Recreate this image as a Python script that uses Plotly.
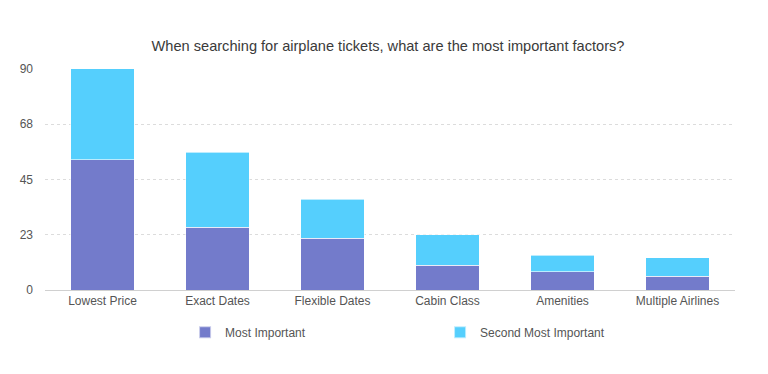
import plotly.graph_objects as go

categories = ["Lowest Price", "Exact Dates", "Flexible Dates", "Cabin Class", "Amenities", "Multiple Airlines"]
most_important = [53, 25.5, 21, 10, 7.4, 5.7]
second_most_important = [37, 30.5, 16, 12.6, 6.8, 7.4]
tick_vals = [0, 22.5, 45, 67.5, 90]
tick_text = ["0", "23", "45", "68", "90"]

fig = go.Figure()
fig.add_trace(go.Bar(x=categories, y=most_important, name="Most Important",
                     marker=dict(color="#737BCB", line=dict(color="rgba(255,255,255,0.6)", width=1))))
fig.add_trace(go.Bar(x=categories, y=second_most_important, name="Second Most Important",
                     marker=dict(color="#55CFFD", line=dict(color="rgba(255,255,255,0.6)", width=1))))

fig.update_layout(
    barmode="stack",
    bargap=0.45,
    width=760, height=366,
    margin=dict(l=37, r=33, t=60, b=84, autoexpand=False),
    paper_bgcolor="white", plot_bgcolor="white",
    font=dict(family="Liberation Sans, Arial, sans-serif", size=12, color="#555555"),
    title=dict(text="When searching for airplane tickets, what are the most important factors?",
               x=0.50, xanchor="center", y=0.896, yanchor="middle",
               font=dict(size=14.6, color="#3a3a3a")),
    xaxis=dict(showgrid=False, ticks="", linecolor="#d0d0d0", showline=True, linewidth=1,
               tickfont=dict(size=12, color="#555555")),
    yaxis=dict(range=[0, 90.4], tickvals=tick_vals, ticktext=tick_text,
               showgrid=True, gridcolor="#dcdcdc", griddash="dot", gridwidth=1,
               zeroline=False, ticks="", ticklabelstandoff=11,
               tickfont=dict(size=12, color="#555555")),
    legend=dict(orientation="h", x=0.203, xanchor="left", y=-0.19, yanchor="middle",
                entrywidth=210, entrywidthmode="pixels", traceorder="normal",
                font=dict(size=12, color="#555555"), itemsizing="constant"),
    showlegend=True,
)

fig.write_html("out.html")
